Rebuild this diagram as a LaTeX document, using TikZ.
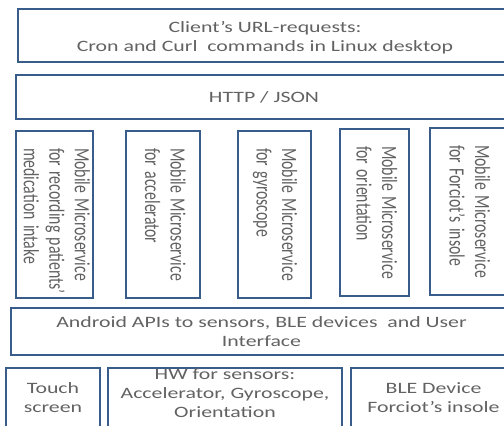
\documentclass[tikz,border=0pt]{standalone}
\usepackage{fontspec}
\usepackage{graphicx}
\setmainfont{Carlito}
\newfontfamily\widefont[FakeStretch=1.38]{Carlito}
\definecolor{edge}{HTML}{385D8A}
\definecolor{txt}{HTML}{626262}
\newcommand{\vlines}[1]{\scalebox{1}[1.38]{\begin{tabular}{@{}l@{}}#1\end{tabular}}}
\newcommand{\drop}[1]{\rule{0pt}{#1}}
\newcommand{\lift}[1]{\rule[-#1]{0pt}{#1}}

\begin{document}
\begin{tikzpicture}[x=1pt,y=-1pt,
  layer/.style={draw=edge,line width=2pt,text=txt,align=center,inner sep=0pt,
    font=\widefont\fontsize{15.8}{19}\selectfont},
  service/.style={draw=edge,line width=2pt,text=txt,rotate=-90,inner xsep=17pt,inner ysep=0pt,
    text width=133pt,align=left,font=\fontsize{15.8}{18.5}\selectfont}]
\useasboundingbox (0,0) rectangle (504,426);
\clip (0,0) rectangle (504,426);

% client side
\node[layer,minimum width=494pt,minimum height=53pt] (client) at (265,35.5)
  {\drop{16pt}Client’s URL-requests:\\Cron and Curl\ \ commands in Linux desktop};
\node[layer,minimum width=496pt,minimum height=44pt] (http) at (264,97) {HTTP / JSON};

% mobile microservices
\node[service,minimum height=75pt] (medsvc) at (54.5,214.5)
  {\vlines{Mobile Microservice\\for recording patients’\\medication intake}};
\node[service,minimum height=74pt] (accsvc) at (163,214.5)
  {\vlines{Mobile Microservice\\for accelerator}};
\node[service,minimum height=73pt] (gyrosvc) at (274.5,214.5)
  {\vlines{Mobile Microservice\\for gyroscope}};
\node[service,minimum height=69pt] (orientsvc) at (374.5,212.5)
  {\vlines{Mobile Microservice\\for orientation}};
\node[service,minimum height=75pt] (insolesvc) at (467.5,211.5)
  {\vlines{Mobile Microservice\\for Forciot’s insole}};

% android layer and hardware
\node[layer,minimum width=501pt,minimum height=47pt] (android) at (261.5,331.5)
  {Android APIs to sensors, BLE devices\ \ and User\\Interface};
\node[layer,minimum width=94pt,minimum height=60pt] (touch) at (53,398) {Touch\\screen};
\node[layer,minimum width=234pt,minimum height=60pt] (hw) at (225,398)
  {HW for sensors:\\Accelerator, Gyroscope,\\Orientation\lift{9pt}};
\node[layer,minimum width=165pt,minimum height=60pt] (ble) at (433.5,398)
  {BLE Device\\Forciot’s insole};
\end{tikzpicture}
\end{document}
